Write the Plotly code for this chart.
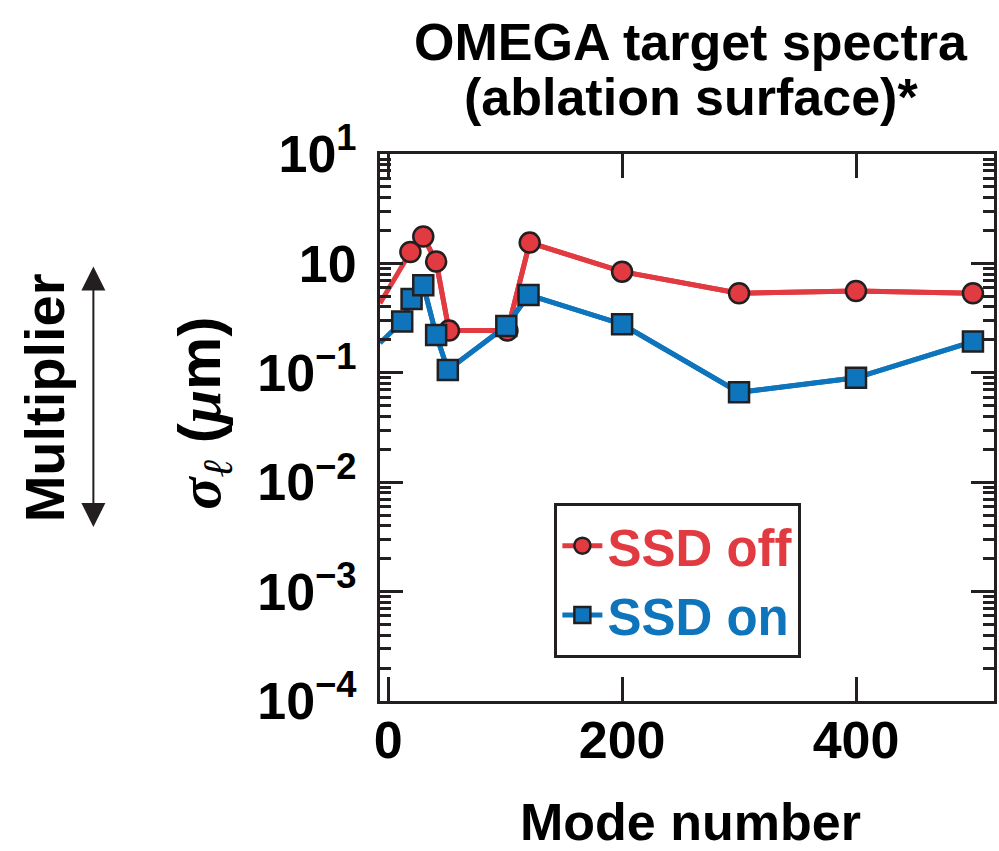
import plotly.graph_objects as go

# ---- data ----
off_modes = [19, 30, 41, 52, 102, 121, 200, 300, 400, 500]
off_sigma = [1.27, 1.76, 1.04, 0.243, 0.243, 1.55, 0.84, 0.533, 0.56, 0.533]
on_modes = [12, 20, 30, 41, 51, 101, 120, 200, 300, 400, 500]
on_sigma = [0.294, 0.473, 0.632, 0.222, 0.106, 0.268, 0.515, 0.278, 0.0663, 0.090, 0.193]
# lines continue to the left frame edge
off_edge_mode, off_edge_sigma = -7, 0.432
on_edge_mode, on_edge_sigma = -7, 0.187

x_ticks = [0, 200, 400]
y_ticks = [1e-4, 1e-3, 1e-2, 1e-1, 1, 10]
y_ticktext = ["10<sup>−4</sup>", "10<sup>−3</sup>", "10<sup>−2</sup>",
              "10<sup>−1</sup>", "10", "10<sup>1</sup>"]

RED = "#e13a40"
BLUE = "#0e75bc"
INK = "#231f20"
FONT = "Liberation Sans, Arial, sans-serif"
FS = 52
LW = 5
MS = 20

fig = go.Figure()
fig.add_trace(go.Scatter(x=[off_edge_mode] + off_modes, y=[off_edge_sigma] + off_sigma,
                         mode="lines", line=dict(color=RED, width=LW),
                         showlegend=False, hoverinfo="skip"))
fig.add_trace(go.Scatter(x=off_modes, y=off_sigma, mode="lines+markers",
                         name=f"<span style='color:{RED}'>SSD off</span>",
                         line=dict(color=RED, width=LW),
                         marker=dict(symbol="circle", size=MS, color=RED,
                                     line=dict(color=INK, width=2.5))))
fig.add_trace(go.Scatter(x=[on_edge_mode] + on_modes, y=[on_edge_sigma] + on_sigma,
                         mode="lines", line=dict(color=BLUE, width=LW),
                         showlegend=False, hoverinfo="skip"))
fig.add_trace(go.Scatter(x=on_modes, y=on_sigma, mode="lines+markers",
                         name=f"<span style='color:{BLUE}'>SSD on</span>",
                         line=dict(color=BLUE, width=LW),
                         marker=dict(symbol="square", size=MS, color=BLUE,
                                     line=dict(color=INK, width=2.5))))

minor_vals = [m * 10 ** e for e in range(-4, 1) for m in range(2, 10)]

fig.update_layout(
    width=999, height=851,
    margin=dict(l=380, r=2, t=154, b=150),
    paper_bgcolor="white", plot_bgcolor="white",
    font=dict(family=FONT, size=FS, color="black", weight="bold"),
    showlegend=True,
    legend=dict(x=0.284, y=0.362, xanchor="left", yanchor="top",
                bgcolor="white", bordercolor=INK, borderwidth=3,
                font=dict(family=FONT, size=51, weight="bold"),
                itemwidth=40, tracegroupgap=0),
    xaxis=dict(range=[-7, 518], tickvals=x_ticks, ticks="inside", ticklen=24,
               tickwidth=3, tickcolor=INK, showline=True, linewidth=3,
               linecolor=INK, mirror="ticks", showgrid=False, zeroline=False,
               tickfont=dict(family=FONT, size=FS, color="black", weight="bold"),
               ticklabelstandoff=-8),
    yaxis=dict(type="log", range=[-4, 1], tickvals=y_ticks, ticktext=y_ticktext,
               ticks="inside", ticklen=23, tickwidth=3, tickcolor=INK,
               showline=True, linewidth=3, linecolor=INK, mirror="ticks",
               showgrid=False, zeroline=False,
               tickfont=dict(family=FONT, size=FS, color="black", weight="bold"),
               ticklabelstandoff=10,
               minor=dict(tickvals=minor_vals, ticks="inside", ticklen=11,
                          tickwidth=3, tickcolor=INK, showgrid=False)),
)

ann = []
ann.append(dict(text="OMEGA target spectra", xref="paper", yref="paper",
                x=0.507, y=1.2048, xanchor="center", yanchor="middle",
                showarrow=False, font=dict(family=FONT, size=FS, weight="bold")))
ann.append(dict(text="(ablation surface)*", xref="paper", yref="paper",
                x=0.507, y=1.1042, xanchor="center", yanchor="middle",
                showarrow=False, font=dict(family=FONT, size=FS, weight="bold")))
ann.append(dict(text="Mode number", xref="paper", yref="paper",
                x=0.5057, y=-0.222, xanchor="center", yanchor="middle",
                showarrow=False, font=dict(family=FONT, size=FS, weight="bold")))
ann.append(dict(text="<span style='font-family:Liberation Serif'><i>σ</i></span>"
                     "<sub><span style='font-family:DejaVu Serif;font-weight:normal'><i>ℓ</i></span></sub>"
                     " (<span style='font-family:Liberation Serif'><i>μ</i></span>m)",
                xref="paper", yref="paper", x=-0.287, y=0.5265,
                xanchor="center", yanchor="middle", textangle=-90,
                showarrow=False, font=dict(family=FONT, size=60, weight="bold")))
ann.append(dict(text="Multiplier", xref="paper", yref="paper",
                x=-0.545, y=0.554, xanchor="center", yanchor="middle",
                textangle=-90, showarrow=False,
                font=dict(family=FONT, size=56, weight="bold")))
ann.append(dict(text="", xref="paper", yref="paper", x=-0.4668, y=0.318,
                ax=0, ay=-262, showarrow=True, arrowside="end+start",
                arrowhead=2, arrowsize=2.4, arrowwidth=2, arrowcolor=INK,
                standoff=0, startstandoff=0))
fig.update_layout(annotations=ann)

fig.write_html("out.html")
